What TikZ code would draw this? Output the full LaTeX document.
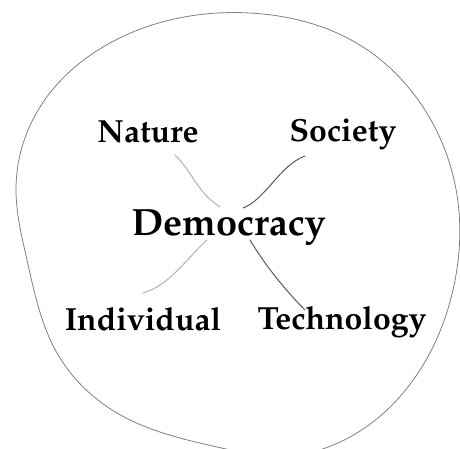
\documentclass[tikz,border=0pt]{standalone}
\usepackage[T1]{fontenc}
\usepackage{mathpazo}
\usetikzlibrary{hobby}
\begin{document}
\begin{tikzpicture}[x=1pt,y=-1pt,
  word/.style={anchor=base,inner sep=0pt,font=\fontsize{32}{32}\selectfont\bfseries},
  centre/.style={anchor=base,inner sep=0pt,font=\fontsize{38}{38}\selectfont\bfseries},
  blob/.style={draw=black!50,line width=0.8pt},
  lightstroke/.style={draw=black!30,line width=1pt,line cap=round},
  darkstroke/.style={draw=black!65,line width=1pt,line cap=round}]
\clip (0,0) rectangle (460,449);
\fill[white] (0,0) rectangle (460,449);
\draw[blob,use Hobby shortcut,closed=true]
  (250,13) .. (363,47) .. (423,107) .. (457,195) .. (453,290) .. (420,370)
  .. (350,437) .. (285,456) .. (217,447) .. (117,413) .. (57,353) .. (27,260)
  .. (16,190) .. (40,107) .. (110,43);
\node[word] (nat) at (148,142.7) {Nature};
\node[word] (soc) at (343,141.7) {Society};
\node[centre] (dem) at (228.7,235) {Democracy};
\node[word] (ind) at (143,330) {Individual};
\node[word] (tec) at (342,329) {Technology};
\coordinate (nw1) at (175,155); \coordinate (nw2) at (220,207);
\coordinate (ne1) at (305,156); \coordinate (ne2) at (243,208);
\coordinate (sw1) at (207,240); \coordinate (sw2) at (143,293);
\coordinate (se1) at (250,240); \coordinate (se2) at (305,310);
\draw[lightstroke] (nw1) .. controls (195,175) and (195,190) .. (nw2);
\draw[darkstroke] (ne1) .. controls (280,165) and (265,200) .. (ne2);
\draw[lightstroke] (sw1) .. controls (185,260) and (170,285) .. (sw2);
\draw[darkstroke] (se1) .. controls (265,265) and (285,290) .. (se2);
\end{tikzpicture}
\end{document}
